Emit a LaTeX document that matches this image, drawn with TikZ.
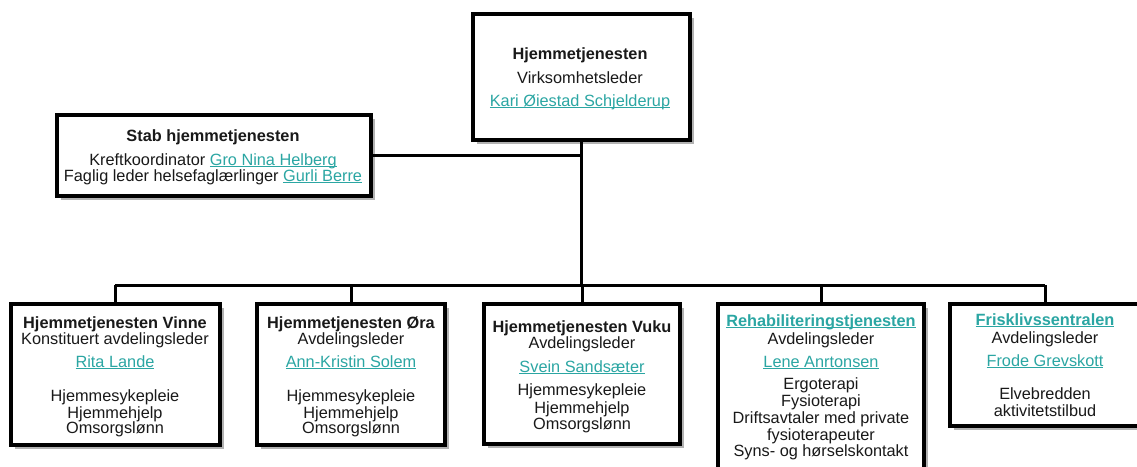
\documentclass[tikz,border=0pt]{standalone}
\usepackage{fontspec}
\setmainfont{Liberation Sans}
\usetikzlibrary{shadows}
\definecolor{linkc}{HTML}{2BA6A3}
\newcommand\lnk[1]{{\color{linkc}\setbox0\hbox{#1}\rlap{\rule[-2.4pt]{\wd0}{1.1pt}}\box0}}
\tikzset{
  box/.style={draw=black, line width=4pt, fill=white, inner sep=0pt, rectangle,
    drop shadow={shadow xshift=3.5pt, shadow yshift=-3.5pt, opacity=0.3, fill=black}},
  conn/.style={draw=black, line width=3pt},
  txt/.style={anchor=base, inner sep=0pt, text=black!90, font=\fontsize{16.3}{18}\selectfont},
  btxt/.style={txt, font=\fontsize{16.3}{18}\selectfont\bfseries}
}
\begin{document}
\begin{tikzpicture}[x=1pt,y=-1pt]
\useasboundingbox (0,0) rectangle (1137,466);
\clip (0,0) rectangle (1137,466);
% boxes
\node[box, minimum width=217pt, minimum height=126pt] (top) at (581.5,77) {};
\node[box, minimum width=314pt, minimum height=81pt] (stab) at (214,155.5) {};
\node[box, minimum width=209pt, minimum height=141pt] (b1) at (115.5,374.5) {};
\node[box, minimum width=188pt, minimum height=141pt] (b2) at (351,374.5) {};
\node[box, minimum width=196pt, minimum height=140pt] (b3) at (582,374) {};
\node[box, minimum width=206pt, minimum height=176pt] (b4) at (821,392) {};
\node[box, minimum width=190pt, minimum height=122pt] (b5) at (1045,365) {};
% connectors
\coordinate (bl) at (115,285);
\coordinate (br) at (1045,285);
\draw[conn] (top.south) -- (top.south |- bl);
\draw[conn] (bl) -- (br);
\draw[conn] (b1.north) -- (b1.north |- bl);
\draw[conn] (b2.north) -- (b2.north |- bl);
\draw[conn] (b3.north) -- (b3.north |- bl);
\draw[conn] (b4.north) -- (b4.north |- bl);
\draw[conn] (b5.north) -- (b5.north |- bl);
\draw[conn] (stab.east) -- (stab.east -| top.south);
% top texts
\node[btxt] (ta) at (580,59) {Hjemmetjenesten};
\node[txt] (tb) at (580,83) {Virksomhetsleder};
\node[txt] (tc) at (580,106) {\lnk{Kari Øiestad Schjelderup}};
% stab texts
\node[btxt] (sa) at (213,141) {Stab hjemmetjenesten};
\node[txt] (sb) at (213,165) {Kreftkoordinator \lnk{Gro Nina Helberg}};
\node[txt] (sc) at (213,181) {Faglig leder helsefaglærlinger \lnk{Gurli Berre}};
% box 1
\node[btxt] (a1) at (115,328) {Hjemmetjenesten Vinne};
\node[txt] (a2) at (115,344) {Konstituert avdelingsleder};
\node[txt] (a3) at (115,367) {\lnk{Rita Lande}};
\node[txt] (a4) at (115,401) {Hjemmesykepleie};
\node[txt] (a5) at (115,418) {Hjemmehjelp};
\node[txt] (a6) at (115,433) {Omsorgslønn};
% box 2
\node[btxt] (c1) at (351,328) {Hjemmetjenesten Øra};
\node[txt] (c2) at (351,344) {Avdelingsleder};
\node[txt] (c3) at (351,367) {\lnk{Ann-Kristin Solem}};
\node[txt] (c4) at (351,401) {Hjemmesykepleie};
\node[txt] (c5) at (351,418) {Hjemmehjelp};
\node[txt] (c6) at (351,433) {Omsorgslønn};
% box 3
\node[btxt] (d1) at (582,332) {Hjemmetjenesten Vuku};
\node[txt] (d2) at (582,348) {Avdelingsleder};
\node[txt] (d3) at (582,372) {\lnk{Svein Sandsæter}};
\node[txt] (d4) at (582,395) {Hjemmesykepleie};
\node[txt] (d5) at (582,413) {Hjemmehjelp};
\node[txt] (d6) at (582,429) {Omsorgslønn};
% box 4
\node[btxt] (e1) at (821,326) {\lnk{Rehabiliteringstjenesten}};
\node[txt] (e2) at (821,344) {Avdelingsleder};
\node[txt] (e3) at (821,367) {\lnk{Lene Anrtonsen}};
\node[txt] (e4) at (821,389) {Ergoterapi};
\node[txt] (e5) at (821,406) {Fysioterapi};
\node[txt] (e6) at (821,423) {Driftsavtaler med private};
\node[txt] (e7) at (821,440) {fysioterapeuter};
\node[txt] (e8) at (821,456) {Syns- og hørselskontakt};
% box 5
\node[btxt] (f1) at (1045,325) {\lnk{Frisklivssentralen}};
\node[txt] (f2) at (1045,343) {Avdelingsleder};
\node[txt] (f3) at (1045,366) {\lnk{Frode Grevskott}};
\node[txt] (f4) at (1045,399) {Elvebredden};
\node[txt] (f5) at (1045,416) {aktivitetstilbud};
\end{tikzpicture}
\end{document}
